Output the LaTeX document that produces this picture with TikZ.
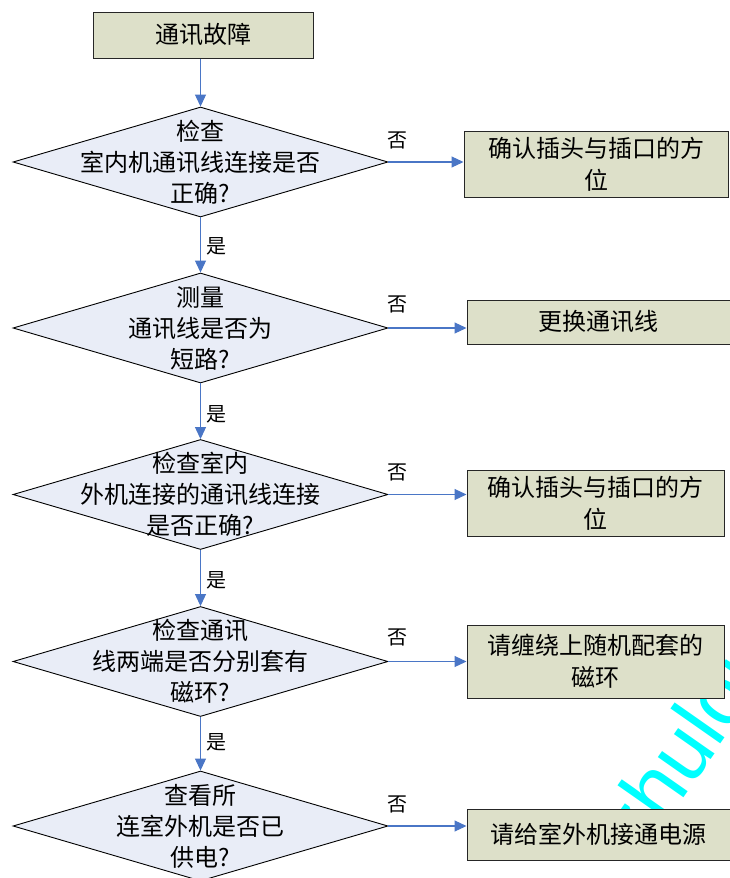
\documentclass[tikz,border=0pt]{standalone}
\usepackage{fontspec}
\newfontfamily\cjk{Noto Sans CJK SC}
\newfontfamily\wmfont{Liberation Sans}
\usetikzlibrary{arrows.meta,shapes.geometric}
\definecolor{boxfill}{HTML}{DDE0C9}
\definecolor{diafill}{HTML}{E9EDF7}
\definecolor{arrowblue}{HTML}{4A76C6}
\definecolor{wmcyan}{HTML}{00FFFF}
\begin{document}
\begin{tikzpicture}[x=1pt,y=-1pt,
  procbox/.style={draw=black!85, fill=boxfill, line width=1pt, inner sep=0pt, align=center,
    font=\cjk\fontsize{24}{32}\selectfont},
  decision/.style={diamond, draw=black, fill=diafill, line width=0.9pt, inner sep=0pt,
    minimum width=375pt, minimum height=110pt},
  dtext/.style={align=center, inner sep=0pt, font=\cjk\fontsize{24}{31}\selectfont},
  flow/.style={draw=arrowblue, line width=1.1pt, -{Triangle[length=12pt,width=11pt]}},
  lab/.style={inner sep=0pt, font=\cjk\fontsize{20}{20}\selectfont},
  wm/.style={text=wmcyan, inner sep=0pt, font=\wmfont\fontsize{84}{84}\selectfont}
]
\useasboundingbox (0,0) rectangle (730,878);
\fill[white] (0,0) rectangle (730,878);
% watermark
\node[wm, rotate=55, anchor=base west] (wmk) at (640,860) {zhulong};
% top box
\node[procbox, minimum width=220pt, minimum height=46pt] (b0) at (203,35) {通讯故障};
% decisions
\node[decision] (d1) at (200.5,162) {};
\node[dtext] (d1t) at (d1.center) {检查\\室内机通讯线连接是否\\正确?};
\node[decision] (d2) at (200.5,328) {};
\node[dtext] (d2t) at (d2.center) {测量\\通讯线是否为\\短路?};
\node[decision] (d3) at (200.5,494.5) {};
\node[dtext] (d3t) at (d3.center) {检查室内\\外机连接的通讯线连接\\是否正确?};
\node[decision] (d4) at (200.5,661.5) {};
\node[dtext] (d4t) at (d4.center) {检查通讯\\线两端是否分别套有\\磁环?};
\node[decision] (d5) at (200.5,826) {};
\node[dtext] (d5t) at (d5.center) {查看所\\连室外机是否已\\供电?};
% action boxes
\node[procbox, minimum width=264pt, minimum height=66pt] (b1) at (596,164) {确认插头与插口的方\\位};
\node[procbox, minimum width=263pt, minimum height=44pt] (b2) at (598.5,322) {更换通讯线};
\node[procbox, minimum width=257pt, minimum height=66pt] (b3) at (595.5,503) {确认插头与插口的方\\位};
\node[procbox, minimum width=257pt, minimum height=73pt] (b4) at (595.5,661.5) {请缠绕上随机配套的\\磁环};
\node[procbox, minimum width=263pt, minimum height=51pt] (b5) at (598.5,834.5) {请给室外机接通电源};
% vertical flow
\draw[flow] (b0.south -| d1.north) -- (d1.north);
\draw[flow] (d1.south) -- (d2.north);
\draw[flow] (d2.south) -- (d3.north);
\draw[flow] (d3.south) -- (d4.north);
\draw[flow] (d4.south) -- (d5.north);
% horizontal flow
\draw[flow] (d1.east) -- (d1.east -| b1.west);
\draw[flow] (d2.east) -- (d2.east -| b2.west);
\draw[flow] (d3.east) -- (d3.east -| b3.west);
\draw[flow] (d4.east) -- (d4.east -| b4.west);
\draw[flow] (d5.east) -- (d5.east -| b5.west);
% labels
\node[lab] (n1) at (397,140) {否};
\node[lab] (n2) at (397,304) {否};
\node[lab] (n3) at (397,472) {否};
\node[lab] (n4) at (397,637) {否};
\node[lab] (n5) at (397,804) {否};
\node[lab] (y1) at (216,246) {是};
\node[lab] (y2) at (216,414) {是};
\node[lab] (y3) at (216,580) {是};
\node[lab] (y4) at (216,742) {是};
\end{tikzpicture}
\end{document}
